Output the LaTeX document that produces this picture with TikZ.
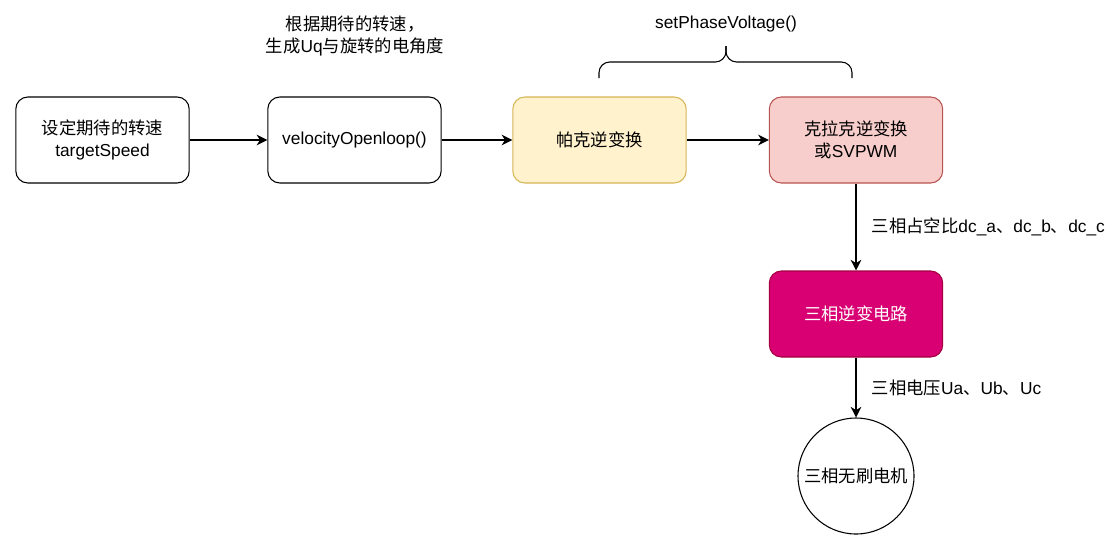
\documentclass[tikz,border=0pt]{standalone}
\usepackage{fontspec}
\setmainfont{Liberation Sans}
\newfontfamily\cjk{Noto Sans CJK SC}
\usetikzlibrary{arrows.meta,positioning}

\tikzset{
  block/.style={draw, rounded corners=9pt, minimum width=130pt, minimum height=64.5pt, align=center, line width=0.8pt},
  flow/.style={-{Stealth[length=8pt, width=8pt, inset=2.5pt]}, line width=1pt}
}

\begin{document}
\begin{tikzpicture}[x=0.75pt, y=-0.75pt, font=\fontsize{13pt}{16.5pt}\selectfont]
\useasboundingbox (0,0) rectangle (1120,547);
\node[block] (target) at (102.5, 140) {{\cjk 设定期待的转速}\\targetSpeed};
\node[block] (openloop) at (354.5, 140) {velocityOpenloop()};
\node[block, fill={rgb,255:red,255;green,242;blue,204}, draw={rgb,255:red,214;green,182;blue,86}] (ipark) at (599.5, 140) {\cjk 帕克逆变换};
\node[block, fill={rgb,255:red,248;green,206;blue,204}, draw={rgb,255:red,184;green,84;blue,80}] (iclarke) at (856, 140) {{\cjk 克拉克逆变换}\\{\cjk 或}SVPWM};
\node[block, fill={rgb,255:red,216;green,0;blue,115}, draw={rgb,255:red,165;green,0;blue,64}, text=white] (inverter) at (856, 314) {\cjk 三相逆变电路};
\node[draw, circle, minimum size=87pt, line width=0.8pt, inner sep=0pt] (motor) at (856, 476) {\cjk 三相无刷电机};

\draw[flow] (target) -- (openloop);
\draw[flow] (openloop) -- (ipark);
\draw[flow] (ipark) -- (iclarke);
\draw[flow] (iclarke) -- (inverter)
  node[midway, right=8pt] (duty) {{\cjk 三相占空比}dc\_a{\cjk 、}dc\_b{\cjk 、}dc\_c};
\draw[flow] (inverter) -- (motor)
  node[midway, right=8pt] (phasev) {{\cjk 三相电压}Ua{\cjk 、}Ub{\cjk 、}Uc};

\node[align=center] (plan) at (355, 36) {{\cjk 根据期待的转速，}\\{\cjk 生成}Uq{\cjk 与旋转的电角度}};
\node (setpv) at (726, 24) {setPhaseVoltage()};
% brace over the two transforms
\draw[line width=0.8pt, rounded corners=8pt] (599, 78) -- (599, 62) -- (726, 62) -- (726, 46);
\draw[line width=0.8pt, rounded corners=8pt] (852, 78) -- (852, 62) -- (726, 62) -- (726, 46);
\end{tikzpicture}
\end{document}
